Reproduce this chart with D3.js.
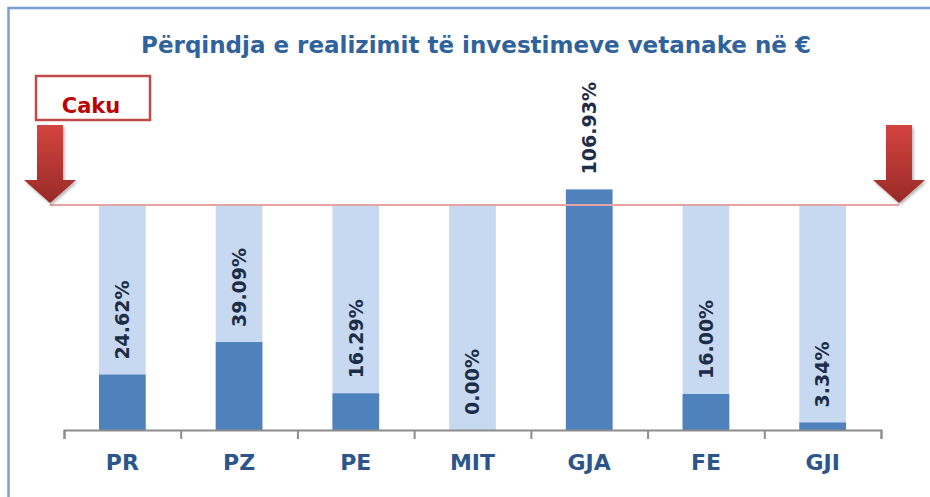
<!DOCTYPE html>
<html>
<head>
<meta charset="utf-8">
<script src="https://cdn.jsdelivr.net/npm/d3@7"></script>
<style>
  body { margin: 0; background: #fff; }
  svg { display: block; }
</style>
</head>
<body>
<div id="chart"></div>
<script>
var categories = ["PR", "PZ", "PE", "MIT", "GJA", "FE", "GJI"];
var values = [24.62, 39.09, 16.29, 0.00, 106.93, 16.00, 3.34];
var target = 100;
var targetLabel = "Caku";
var title = "Përqindja e realizimit të investimeve vetanake në €";

var width = 930;
var height = 497;
var font = "'DejaVu Sans', sans-serif";

var svg = d3.select("#chart")
    .append("svg")
    .attr("width", width)
    .attr("height", height);

// gradient for the red arrows
var defs = svg.append("defs");
var grad = defs.append("linearGradient")
    .attr("id", "arrowGrad")
    .attr("x1", 0).attr("y1", 0).attr("x2", 0).attr("y2", 1);
grad.append("stop").attr("offset", "0%").attr("stop-color", "#d3443f");
grad.append("stop").attr("offset", "100%").attr("stop-color", "#982a27");
var shadow = defs.append("filter").attr("id", "shadow")
    .attr("x", "-30%").attr("y", "-30%").attr("width", "160%").attr("height", "160%");
shadow.append("feDropShadow")
    .attr("dx", 1.5).attr("dy", 2).attr("stdDeviation", 1.5)
    .attr("flood-color", "#000").attr("flood-opacity", 0.3);

// chart border (only top and left are in frame)
svg.append("rect")
    .attr("x", 8.5)
    .attr("y", 8)
    .attr("width", 1000)
    .attr("height", 1000)
    .attr("fill", "none")
    .attr("stroke", "#779fd3")
    .attr("stroke-width", 2.5);

var x = d3.scaleBand()
    .domain(categories)
    .range([64, 881])
    .paddingInner(0.6)
    .paddingOuter(0.3);

var y = d3.scaleLinear()
    .domain([0, 100])
    .range([430, 205]);

// title
svg.append("text")
    .attr("x", 476)
    .attr("y", 53)
    .attr("text-anchor", "middle")
    .attr("font-family", font)
    .attr("font-weight", "bold")
    .attr("font-size", 23)
    .attr("fill", "#30629c")
    .text(title);

// background bars up to target
svg.selectAll(".bg")
    .data(categories)
    .enter()
    .append("rect")
    .attr("class", "bg")
    .attr("x", function(d) { return x(d); })
    .attr("y", y(target))
    .attr("width", x.bandwidth())
    .attr("height", y(0) - y(target))
    .attr("fill", "#c6d9f1");

// value bars
svg.selectAll(".bar")
    .data(values)
    .enter()
    .append("rect")
    .attr("class", "bar")
    .attr("x", function(d, i) { return x(categories[i]); })
    .attr("y", function(d) { return y(d); })
    .attr("width", x.bandwidth())
    .attr("height", function(d) { return y(0) - y(d); })
    .attr("fill", "#4f81bd");

// target line
var arrowL = 50, arrowR = 899;
svg.append("line")
    .attr("x1", arrowL)
    .attr("x2", arrowR)
    .attr("y1", y(target))
    .attr("y2", y(target))
    .attr("stroke", "#e6a3a3")
    .attr("stroke-width", 2);

// arrows pointing at the target line
function arrow(cx) {
    var tip = y(target) - 2;
    var p = [
        [cx - 13, tip - 78],
        [cx + 13, tip - 78],
        [cx + 13, tip - 23],
        [cx + 26, tip - 23],
        [cx, tip],
        [cx - 26, tip - 23],
        [cx - 13, tip - 23]
    ];
    svg.append("path")
        .attr("d", "M" + p.join("L") + "Z")
        .attr("fill", "url(#arrowGrad)")
        .attr("filter", "url(#shadow)");
}
arrow(arrowL);
arrow(arrowR);

// Caku box
svg.append("rect")
    .attr("x", 36)
    .attr("y", 76)
    .attr("width", 114)
    .attr("height", 44)
    .attr("fill", "#fff")
    .attr("stroke", "#be4b48")
    .attr("stroke-width", 2.5);
svg.append("text")
    .attr("x", 91)
    .attr("y", 113)
    .attr("text-anchor", "middle")
    .attr("font-family", font)
    .attr("font-weight", "bold")
    .attr("font-size", 21)
    .attr("fill", "#c00000")
    .text(targetLabel);

// value labels, rotated
var fmt = d3.format(".2f");
svg.selectAll(".val")
    .data(values)
    .enter()
    .append("text")
    .attr("class", "val")
    .attr("transform", function(d, i) {
        return "translate(" + (x(categories[i]) + x.bandwidth() / 2) + "," + (y(d) - 15) + ") rotate(-90)";
    })
    .attr("dy", "0.36em")
    .attr("text-anchor", "start")
    .attr("font-family", font)
    .attr("font-weight", "bold")
    .attr("font-size", 19)
    .attr("fill", "#1d2c47")
    .text(function(d) { return fmt(d) + "%"; });

// axis with ticks between categories
var edges = d3.scaleLinear().domain([0, categories.length]).range([64, 881]);
var axis = svg.append("g")
    .attr("transform", "translate(0," + y(0) + ")")
    .call(d3.axisBottom(edges)
        .ticks(categories.length)
        .tickFormat("")
        .tickSizeInner(9)
        .tickSizeOuter(9));
axis.selectAll("path, line")
    .attr("stroke", "#8c8c8c")
    .attr("stroke-width", 2);

// category labels
svg.selectAll(".cat")
    .data(categories)
    .enter()
    .append("text")
    .attr("class", "cat")
    .attr("x", function(d) { return x(d) + x.bandwidth() / 2; })
    .attr("y", 470)
    .attr("text-anchor", "middle")
    .attr("font-family", font)
    .attr("font-weight", "bold")
    .attr("font-size", 22)
    .attr("fill", "#2c568b")
    .text(function(d) { return d; });
</script>
</body>
</html>
